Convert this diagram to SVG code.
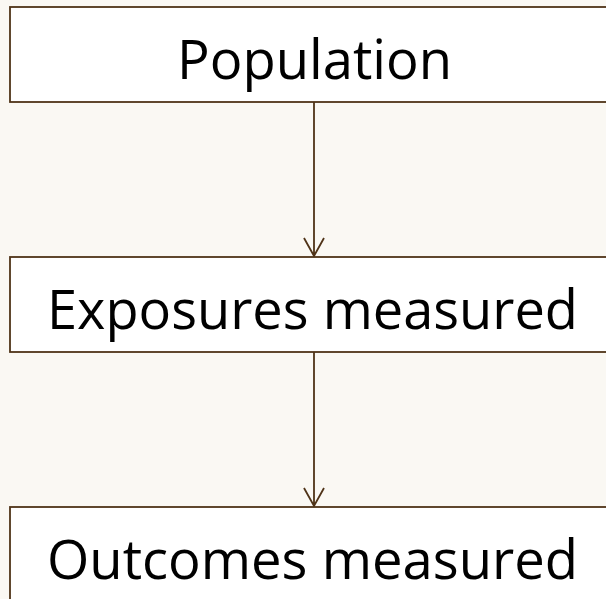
<svg xmlns="http://www.w3.org/2000/svg" width="606" height="599" viewBox="0 0 606 599">
<style>
.box{fill:#ffffff;stroke:#4f3318;stroke-width:1.8}
.lbl{font-family:"Open Sans","Noto Sans",sans-serif;font-size:54px;fill:#000;text-anchor:middle}
.con{stroke:#4f3318;stroke-width:1.8;fill:none}
</style>
<rect x="0" y="0" width="606" height="599" fill="#faf8f3"/>
<g id="population">
<rect class="box" x="10" y="7" width="610" height="95"/>
<text class="lbl" x="314.5" y="79" textLength="275" lengthAdjust="spacingAndGlyphs">Population</text>
</g>
<g id="exposures">
<rect class="box" x="10" y="257" width="610" height="95"/>
<text class="lbl" x="312.5" y="329" textLength="531" lengthAdjust="spacingAndGlyphs">Exposures measured</text>
</g>
<g id="outcomes">
<rect class="box" x="10" y="507" width="610" height="110"/>
<text class="lbl" x="312.5" y="579" textLength="531" lengthAdjust="spacingAndGlyphs">Outcomes measured</text>
</g>
<g id="connectors">
<path class="con" d="M314 102V256M304 238L314 256L324 238"/>
<path class="con" d="M314 352V506M304 488L314 506L324 488"/>
</g>
</svg>
